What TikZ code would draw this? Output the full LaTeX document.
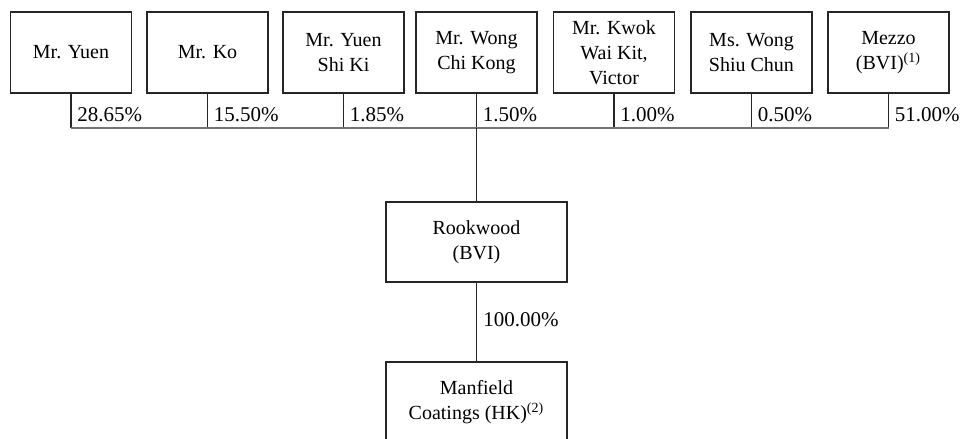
\documentclass[tikz,border=0pt]{standalone}
\usepackage{fontspec}
\setmainfont{Liberation Serif}
\tikzset{
  holder/.style={draw=black!85,line width=0.6pt,minimum width=60.5pt,minimum height=40.5pt,
    align=center,inner sep=1pt,font=\fontsize{10}{12.5}\selectfont},
  firm/.style={holder,minimum width=90.5pt,minimum height=40pt},
  pct/.style={anchor=west,inner sep=1pt,font=\fontsize{10.5}{12}\selectfont},
  link/.style={draw=black!85,line width=0.6pt},
  bus/.style={draw=black!55,line width=1.1pt}
}
\begin{document}
\begin{tikzpicture}[x=0.5pt,y=-0.5pt]
  \useasboundingbox (0,0) rectangle (960,439);
  % acționari
  \node[holder] (yuen)  at (71,52.5)  {Mr. Yuen};
  \node[holder] (ko)    at (207.5,52.5) {Mr. Ko};
  \node[holder] (yuensk) at (343.5,52.5) {Mr. Yuen\\Shi Ki};
  \node[holder] (wong)  at (476.5,52.5) {Mr. Wong\\Chi Kong};
  \node[holder] (kwok)  at (614,52.5) {Mr. Kwok\\Wai Kit,\\Victor};
  \node[holder] (wongsc) at (751.5,52.5) {Ms. Wong\\Shiu Chun};
  \node[holder] (mezzo) at (888.5,52.5) {Mezzo\\(BVI)\textsuperscript{(1)}};

  % societăți
  \node[firm] (rook) at (476.5,242) {Rookwood\\(BVI)};
  \node[firm] (manf) at (476.5,402) {Manfield\\Coatings (HK)\textsuperscript{(2)}};

  % puncte pe linia comună
  \coordinate (b1) at (yuen.south |- 0,128);
  \coordinate (b2) at (ko.south |- 0,128);
  \coordinate (b3) at (yuensk.south |- 0,128);
  \coordinate (b4) at (wong.south |- 0,128);
  \coordinate (b5) at (kwok.south |- 0,128);
  \coordinate (b6) at (wongsc.south |- 0,128);
  \coordinate (b7) at (mezzo.south |- 0,128);

  % linii verticale
  \draw[link] (yuen.south) -- (b1) (ko.south) -- (b2) (yuensk.south) -- (b3)
    (wong.south) -- (b4) (kwok.south) -- (b5) (wongsc.south) -- (b6) (mezzo.south) -- (b7);
  % linia comună
  \draw[bus] (b1) -- (b7);
  \draw[link] (b4) -- (rook.north);
  \draw[link] (rook.south) -- (manf.north);

  % procente
  \node[pct] (p1) at (75,114.5) {28.65\%};
  \node[pct] (p2) at (211.5,114.5) {15.50\%};
  \node[pct] (p3) at (347.5,114.5) {1.85\%};
  \node[pct] (p4) at (480.5,114.5) {1.50\%};
  \node[pct] (p5) at (618,114.5) {1.00\%};
  \node[pct] (p6) at (755.5,114.5) {0.50\%};
  \node[pct] (p7) at (892.5,114.5) {51.00\%};
  \node[pct] (p8) at (481,320) {100.00\%};
\end{tikzpicture}
\end{document}
